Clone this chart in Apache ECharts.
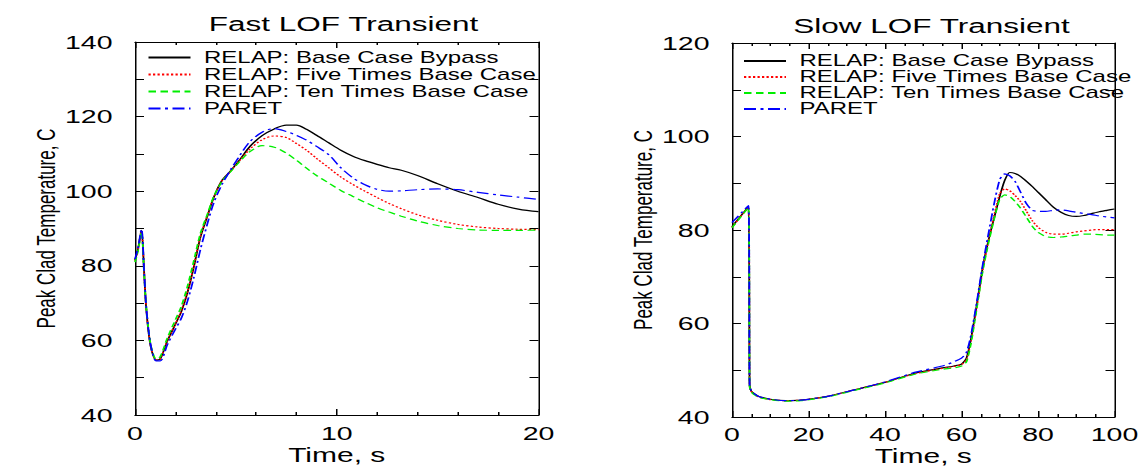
<!DOCTYPE html>
<html>
<head>
<meta charset="utf-8">
<script src="https://cdn.jsdelivr.net/npm/echarts@6/dist/echarts.min.js"></script>
<style>
  html, body { margin: 0; padding: 0; background: #fff; overflow: hidden; }
  /* the source figure is stretched ~1.5x horizontally, so draw it narrow and scale it */
  #chart { width: 764px; height: 468px; transform: scaleX(1.5); transform-origin: 0 0; }
</style>
</head>
<body>
<div id="chart"></div>
<script>
const seriesNames = [
  "RELAP: Base Case Bypass",
  "RELAP: Five Times Base Case",
  "RELAP: Ten Times Base Case",
  "PARET"
];

// Fast LOF transient, time in s, temperature in C
const fastTime = [0, 0.15, 0.32, 0.45, 0.55, 0.7, 0.85, 1.05, 1.25, 1.6, 2.0, 2.3, 2.6, 2.9, 3.25, 3.6, 3.9, 4.3, 4.7, 5.2,
  5.7, 6.3, 6.9, 7.5, 8.0, 8.5, 9.0, 9.6, 10.2, 10.8, 11.4, 12.0, 12.6, 13.2, 14.0, 15.0, 16.0, 17.0, 18.0, 19.0, 20.0];
const fastBase = [81.5, 84.5, 89.5, 78.5, 69, 61, 56.8, 54.7, 55, 59.8, 64.3, 67.8, 72.8, 79.3, 87.8, 93.5, 98.3, 102.8, 105.2, 108.5,
  112, 114.9, 116.7, 117.7, 117.7, 116.6, 115, 113, 111, 109.4, 108.2, 107.2, 106.3, 105.6, 104.2, 102, 100, 98.3, 96.5, 95.2, 94.5];
const fastFive = [81.3, 84.3, 89.3, 78.3, 69.2, 61.2, 56.9, 54.8, 55.1, 59.9, 64.4, 68.0, 73.0, 79.6, 88.0, 93.6, 98.3, 102.7, 105.1, 108.3,
  111.3, 113.8, 114.8, 114.4, 112.8, 111, 108.8, 106.3, 103.8, 101.8, 100, 98.3, 96.7, 95.3, 93.7, 92.2, 91.1, 90.4, 90, 89.8, 89.7];
const fastTen = [81.0, 84.0, 89.0, 78.0, 69.5, 61.5, 57.2, 55.0, 55.6, 60.6, 65.5, 69.2, 74.5, 81.0, 88.8, 94.0, 98.5, 102.5, 105.0, 108.0,
  110.6, 112.2, 111.8, 110.2, 108.3, 106.2, 104.2, 102.2, 100.2, 98.6, 97.0, 95.6, 94.4, 93.3, 92.0, 90.8, 90.0, 89.6, 89.5, 89.5, 89.6];
const fastParet = [81.8, 84.8, 89.8, 78.8, 69.5, 61.5, 57.0, 54.5, 54.5, 58.8, 63.0, 66.0, 70.5, 76.5, 84.5, 91.5, 96.8, 101.7, 105.4, 109.6,
  113.3, 115.8, 116.8, 116.0, 115.0, 113.7, 112.0, 109.8, 106.3, 103.6, 101.7, 100.5, 100.0, 100.1, 100.4, 100.6, 100.4, 99.7, 99.0, 98.4, 97.8];

// Slow LOF transient
const slowTime = [0, 4.3, 4.6, 5.0, 5.8, 7, 10, 14, 18, 25, 32, 40, 48, 55, 58, 60, 61.3, 62.5, 64, 65.5,
  67, 68.5, 70, 71.3, 72.6, 74, 75.5, 77, 78.5, 80, 82, 84, 86, 88, 90, 92, 94, 96, 98, 100];
const slowBase = [80.7, 85.0, 47.0, 45.6, 45.0, 44.4, 43.8, 43.5, 43.6, 44.4, 45.8, 47.4, 49.4, 50.5, 50.9, 51.3, 52.6, 56.8, 64.0, 71.8,
  77.6, 82.5, 87.2, 90.6, 92.3, 92.1, 91.4, 90.4, 89.3, 88.1, 86.5, 84.9, 83.8, 83.1, 82.9, 83.1, 83.5, 83.9, 84.2, 84.5];
const slowFive = [80.6, 84.9, 46.8, 45.5, 44.9, 44.3, 43.7, 43.5, 43.6, 44.4, 45.8, 47.4, 49.3, 50.4, 50.8, 51.2, 52.3, 56.3, 63.5, 71.3,
  77.5, 83.0, 87.8, 88.8, 88.4, 87.4, 86.0, 84.0, 82.0, 80.6, 79.5, 79.1, 79.1, 79.3, 79.6, 79.8, 80.0, 80.1, 80.1, 80.1];
const slowTen = [80.5, 84.8, 46.6, 45.4, 44.8, 44.2, 43.7, 43.4, 43.5, 44.3, 45.7, 47.3, 49.2, 50.2, 50.5, 50.9, 51.8, 55.8, 63.3, 71.0,
  77.0, 82.2, 86.6, 87.5, 87.2, 86.1, 84.6, 82.7, 80.8, 79.5, 78.6, 78.4, 78.5, 78.7, 78.9, 79.1, 79.1, 79.0, 78.9, 78.9];
const slowParet = [81.6, 85.2, 47.0, 45.6, 45.0, 44.4, 43.8, 43.5, 43.6, 44.4, 45.8, 47.5, 49.6, 50.9, 51.8, 52.6, 53.8, 57.6, 64.6, 72.3,
  79.0, 85.5, 90.8, 92.0, 91.6, 90.4, 88.0, 85.6, 84.2, 84.0, 84.0, 84.2, 84.3, 84.1, 83.8, 83.5, 83.3, 83.0, 82.8, 82.6];

const font = "Liberation Sans, Arial, sans-serif";
const lineTypes = [
  { color: "#000000", type: "solid" },
  { color: "#ff0000", type: [1.5, 1.5] },
  { color: "#00ee00", type: [5, 3] },
  { color: "#0000ff", type: [8, 3, 2, 3] }
];

const pairs = (t, v) => t.map((x, i) => [x, v[i]]);

function makeSeries(idx, time, lists, smooth) {
  return lists.map((vals, i) => ({
    name: seriesNames[i],
    type: "line",
    xAxisIndex: idx * 2,
    yAxisIndex: idx * 2,
    data: pairs(time, vals),
    symbol: "none",
    smooth: smooth,
    lineStyle: { color: lineTypes[i].color, type: lineTypes[i].type, width: 1.2 },
    itemStyle: { color: lineTypes[i].color },
    z: 2 + i
  }));
}

function xAxes(grid, max, interval, minorSplit, margin, gap) {
  const base = {
    type: "value", gridIndex: grid, min: 0, max: max, interval: interval,
    axisLine: { show: true, onZero: false, lineStyle: { color: "#000", width: 1 } },
    axisTick: { show: true, inside: true, length: 6, lineStyle: { color: "#000" } },
    minorTick: { show: true, splitNumber: minorSplit, length: 3, lineStyle: { color: "#000" } },
    splitLine: { show: false }
  };
  return [
    Object.assign({}, base, {
      position: "bottom",
      name: "Time, s", nameLocation: "middle", nameGap: gap, nameMoveOverlap: false,
      nameTextStyle: { fontSize: 20, lineHeight: 20, color: "#000", fontFamily: font },
      axisLabel: { fontSize: 19, lineHeight: 19, color: "#000", margin: margin, fontFamily: font }
    }),
    Object.assign({}, base, { position: "top", axisLabel: { show: false } })
  ];
}

function yAxes(grid, min, max) {
  const base = {
    type: "value", gridIndex: grid, min: min, max: max, interval: 20,
    axisLine: { show: true, onZero: false, lineStyle: { color: "#000", width: 1 } },
    axisTick: { show: true, inside: true, length: 6, lineStyle: { color: "#000" } },
    minorTick: { show: true, splitNumber: 2, length: 6, lineStyle: { color: "#000" } },
    splitLine: { show: false }
  };
  return [
    Object.assign({}, base, {
      position: "left",
      name: "Peak Clad Temperature, C", nameLocation: "middle", nameGap: 24,
      nameTextStyle: { fontSize: 17, color: "#000", fontFamily: font },
      axisLabel: { fontSize: 19, color: "#000", margin: 15, fontFamily: font }
    }),
    Object.assign({}, base, { position: "right", axisLabel: { show: false } })
  ];
}

function legendAt(left, top, rowH) {
  return {
    data: seriesNames, orient: "vertical", left: left, top: top,
    itemWidth: 28, itemHeight: 10, itemGap: 0, padding: 0,
    selectedMode: false,
    // hide the marker dot, keep only the line sample
    itemStyle: { opacity: 0 },
    textStyle: { fontSize: 16, lineHeight: rowH, color: "#000", fontFamily: font, padding: [0, 0, 0, 4] }
  };
}

const chart = echarts.init(document.getElementById("chart"), null, { renderer: "svg" });
chart.setOption({
  animation: false,
  backgroundColor: "#fff",
  title: [
    { text: "Fast LOF Transient", left: 224, top: 8, textAlign: "center",
      textStyle: { fontSize: 21, fontWeight: "normal", color: "#000", fontFamily: font } },
    { text: "Slow LOF Transient", left: 616, top: 10, textAlign: "center",
      textStyle: { fontSize: 21, fontWeight: "normal", color: "#000", fontFamily: font } }
  ],
  legend: [legendAt(98, 49, 17), legendAt(495, 53, 16)],
  grid: [
    { left: 90, top: 42, width: 269, height: 373, outerBoundsMode: "none" },
    { left: 488, top: 43, width: 255, height: 374, outerBoundsMode: "none" }
  ],
  xAxis: [...xAxes(0, 20, 10, 5, 9, 30), ...xAxes(1, 100, 20, 4, 8, 29)],
  yAxis: [...yAxes(0, 40, 140), ...yAxes(1, 40, 120)],
  series: [
    ...makeSeries(0, fastTime, [fastBase, fastFive, fastTen, fastParet], 0.3),
    ...makeSeries(1, slowTime, [slowBase, slowFive, slowTen, slowParet], 0.2)
  ]
});
</script>
</body>
</html>
